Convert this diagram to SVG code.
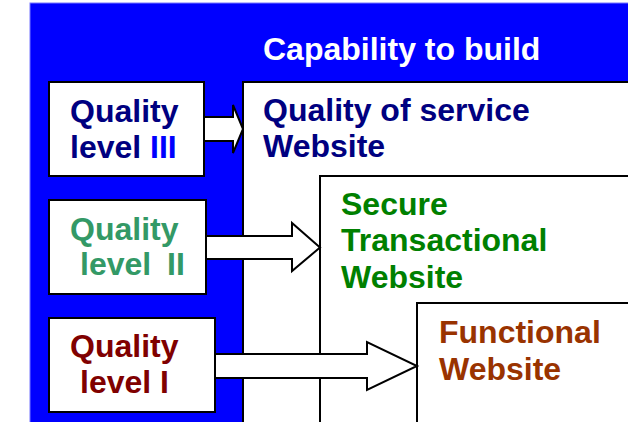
<svg xmlns="http://www.w3.org/2000/svg" width="628" height="422" viewBox="0 0 628 422">
<style>
text{font-family:"Liberation Sans",Arial,sans-serif;font-weight:bold;font-size:32px}
.box{fill:#fff;stroke:#000;stroke-width:2}
.arrow{fill:#fff;stroke:#000;stroke-width:2;stroke-linejoin:miter}
.navy{fill:#000080}
</style>
<rect x="0" y="0" width="628" height="422" fill="#fff"/>
<g id="background">
<rect x="30" y="3" width="610" height="430" fill="#0000ff" stroke="#7777ff" stroke-width="1"/>
<text x="263" y="60" fill="#fff">Capability to build</text>
</g>
<g id="qos-website">
<rect class="box" x="243" y="82" width="420" height="360"/>
<text class="navy" x="263" y="121">Quality of service</text>
<text class="navy" x="263" y="157">Website</text>
</g>
<g id="secure-website">
<rect class="box" x="320" y="176" width="340" height="260"/>
<text fill="#008000" x="341" y="215">Secure</text>
<text fill="#008000" x="341" y="251">Transactional</text>
<text fill="#008000" x="341" y="288">Website</text>
</g>
<g id="functional-website">
<rect class="box" x="417" y="303" width="240" height="140"/>
<text fill="#993300" x="439" y="343">Functional</text>
<text fill="#993300" x="439" y="380">Website</text>
</g>
<g id="quality-level-3">
<rect class="box" x="49" y="82" width="155" height="94"/>
<text class="navy" x="70" y="122">Quality</text>
<text class="navy" x="70" y="158">level <tspan fill="#0000ff">III</tspan></text>
</g>
<g id="quality-level-2">
<rect class="box" x="49" y="200" width="157" height="94"/>
<text fill="#339966" x="70" y="240">Quality</text>
<text fill="#339966" x="80" y="275">level <tspan x="167">II</tspan></text>
</g>
<g id="quality-level-1">
<rect class="box" x="49" y="318" width="166" height="94"/>
<text fill="#800000" x="70" y="357">Quality</text>
<text fill="#800000" x="80" y="393">level I</text>
</g>
<g id="connectors">
<path class="arrow" d="M204,117 L233,117 L233,105 L243,129 L233,153 L233,141 L204,141 Z"/>
<path class="arrow" d="M206,236 L292,236 L292,223 L320,247.5 L292,271 L292,259 L206,259 Z"/>
<path class="arrow" d="M215,354 L367,354 L367,342 L417,366 L367,390 L367,378 L215,378 Z"/>
</g>
</svg>
